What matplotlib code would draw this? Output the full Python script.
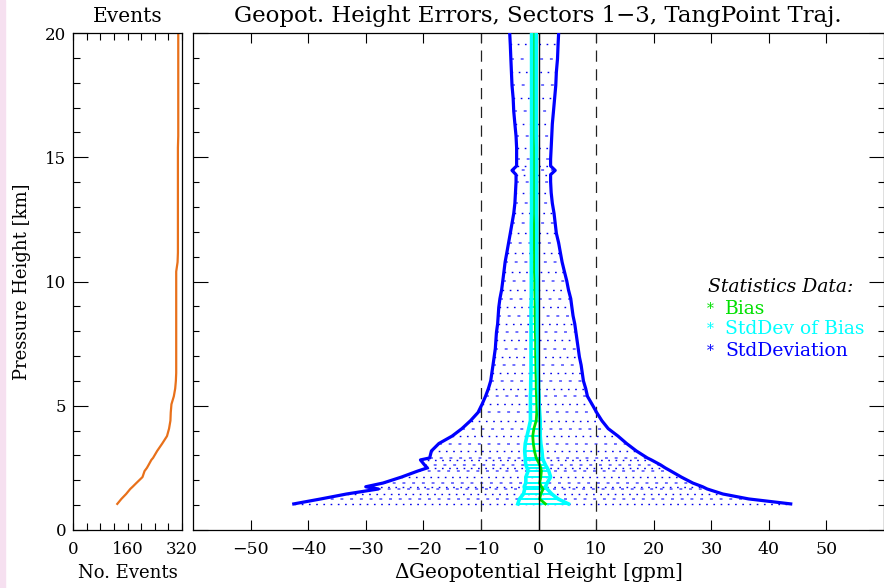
import matplotlib
matplotlib.use("Agg")
import matplotlib.pyplot as plt
from matplotlib.patches import Rectangle
from matplotlib.ticker import MultipleLocator

plt.rcParams['font.family'] = ['DejaVu Serif']
plt.rcParams['mathtext.fontset'] = 'dejavuserif'

# profile levels [km] and statistics [gpm]
levels = [1.05, 1.25, 1.45, 1.65, 1.74, 1.89, 2.13, 2.37, 2.50, 2.62,
          2.82, 2.90, 3.18, 3.48, 3.78, 4.08, 4.40, 4.73, 5.06, 5.38,
          5.69, 6.00, 6.32, 6.64, 6.97, 7.30, 7.63, 7.96, 8.29, 8.62,
          8.96, 9.31, 9.67, 10.03, 10.40, 10.78, 11.16, 11.55, 11.94, 12.34,
          12.74, 13.15, 13.58, 14.02, 14.30, 14.47, 14.65, 14.92, 15.38, 15.85,
          16.34, 16.85, 17.37, 17.89, 18.42, 18.96, 19.54, 20.00]

sd_lower = [-42.5, -37.8, -33.3, -27.8, -30.0, -27.0, -23.8, -21.0, -19.3, -19.8,
            -20.5, -18.9, -18.6, -17.3, -15.0, -13.3, -11.8, -10.5, -9.8, -9.2,
            -8.7, -8.3, -8.1, -7.9, -7.7, -7.5, -7.4, -7.3, -7.1, -7.0,
            -6.9, -6.7, -6.4, -6.2, -6.0, -5.8, -5.5, -5.2, -4.9, -4.6,
            -4.3, -4.1, -4.0, -3.9, -3.9, -4.6, -3.8, -3.8, -3.8, -3.9,
            -4.1, -4.3, -4.4, -4.6, -4.7, -4.8, -4.9, -5.0]

sd_upper = [43.8, 36.5, 32.0, 29.3, 28.5, 26.8, 24.8, 23.0, 22.0, 21.2,
            19.6, 18.9, 17.0, 15.3, 13.8, 12.1, 11.0, 10.1, 9.3, 8.5,
            8.2, 7.8, 7.6, 7.4, 7.1, 6.9, 6.7, 6.5, 6.3, 6.0,
            5.8, 5.6, 5.2, 4.9, 4.5, 4.1, 3.8, 3.5, 3.1, 2.9,
            2.7, 2.4, 2.2, 2.1, 2.1, 2.9, 2.1, 2.1, 2.2, 2.3,
            2.4, 2.6, 2.8, 3.0, 3.1, 3.3, 3.4, 3.5]

bias = [1.2, 0.2, 0.4, 0.8, 0.5, 0.2, 0.4, 0.5, 0.4, 0.2,
        -0.2, -0.4, -0.7, -0.9, -1.0, -0.8, -0.4, -0.3, -0.3, -0.35,
        -0.4, -0.4, -0.45, -0.45, -0.5, -0.5, -0.5, -0.55, -0.55, -0.6,
        -0.6, -0.6, -0.65, -0.65, -0.7, -0.7, -0.7, -0.75, -0.75, -0.75,
        -0.8, -0.8, -0.8, -0.8, -0.8, -0.8, -0.8, -0.8, -0.8, -0.8,
        -0.8, -0.8, -0.8, -0.8, -0.8, -0.8, -0.8, -0.8]

sdb_lower = [-3.6, -3.3, -2.6, -2.4, -2.5, -2.2, -2.2, -1.8, -2.0, -2.2,
             -2.3, -2.3, -2.4, -2.3, -2.0, -1.7, -1.4, -1.4, -1.4, -1.4,
             -1.35, -1.35, -1.3, -1.3, -1.3, -1.3, -1.3, -1.3, -1.3, -1.3,
             -1.3, -1.25, -1.25, -1.25, -1.25, -1.25, -1.25, -1.25, -1.25, -1.25,
             -1.2, -1.2, -1.2, -1.2, -1.2, -1.2, -1.2, -1.2, -1.2, -1.2,
             -1.2, -1.2, -1.2, -1.2, -1.2, -1.2, -1.2, -1.2]

sdb_upper = [5.2, 3.4, 2.3, 1.5, 1.2, 1.5, 2.1, 1.8, 1.5, 1.2,
             0.8, 0.7, 0.6, 0.4, 0.3, 0.3, 0.3, 0.2, 0.1, 0.1,
             0.0, 0.0, -0.05, -0.1, -0.1, -0.15, -0.15, -0.2, -0.2, -0.2,
             -0.2, -0.25, -0.25, -0.25, -0.3, -0.3, -0.3, -0.3, -0.3, -0.3,
             -0.35, -0.35, -0.35, -0.35, -0.35, -0.35, -0.35, -0.35, -0.35, -0.4,
             -0.4, -0.4, -0.4, -0.4, -0.4, -0.4, -0.4, -0.4]

n_events = [130, 142, 156, 168, 175, 186, 204, 210, 217, 222,
            230, 235, 247, 262, 276, 282, 286, 287, 289, 296,
            300, 302, 303, 303, 303, 303, 303, 303, 303, 303,
            303, 303, 303, 303, 303, 307, 308, 308, 308, 308,
            308, 308, 308, 308, 308, 308, 308, 308, 308, 309,
            309, 309, 309, 309, 309, 309, 309, 309]

main_xticks = [-50, -40, -30, -20, -10, 0, 10, 20, 30, 40, 50]
event_xticks = [0, 160, 320]
height_ticks = [0, 5, 10, 15, 20]

W, H = 884, 588
fig = plt.figure(figsize=(W / 100, H / 100), dpi=100)

# thin pink strip at the left border of the screenshot
fig.patches.append(Rectangle((0, 0), 5 / W, 1, transform=fig.transFigure,
                             color='#f6e0f0', zorder=0))

ax_ev = fig.add_axes([73 / W, 58 / H, 109 / W, 497 / H])
ax = fig.add_axes([193 / W, 58 / H, 691 / W, 497 / H])

for a in (ax_ev, ax):
    for s in a.spines.values():
        s.set_linewidth(0.9)
    a.set_ylim(0, 20)
    a.set_yticks(height_ticks)
    a.yaxis.set_minor_locator(MultipleLocator(1))

# ---- events panel
ax_ev.plot(n_events, levels, color='#e8701a', lw=1.6)
ax_ev.set_xlim(0, 320)
ax_ev.set_xticks(event_xticks)
ax_ev.xaxis.set_minor_locator(MultipleLocator(40))
ax_ev.tick_params(axis='x', which='both', direction='in', top=True,
                  length=5, width=0.8, labelsize=12, pad=8)
ax_ev.tick_params(axis='y', which='major', direction='in', length=11,
                  width=0.8, labelsize=12, pad=5)
ax_ev.tick_params(axis='y', which='minor', direction='in', length=5, width=0.8)
ax_ev.set_xlabel('No. Events', fontsize=13, labelpad=4)
ax_ev.set_ylabel('Pressure Height [km]', fontsize=13, labelpad=10)

# ---- main panel
ax.set_xlim(-60, 60)
ax.set_xticks(main_xticks)
ax.tick_params(axis='x', which='major', direction='in', top=True,
               length=7, width=0.8, labelsize=12.5, pad=8)
ax.tick_params(axis='y', which='major', direction='in', right=True,
               length=11, width=0.8, labelleft=False)
ax.tick_params(axis='y', which='minor', direction='in', right=True,
               length=4.5, width=0.8)

# dotted blue level lines between the std-deviation bounds
even = slice(0, None, 2)
odd = slice(1, None, 2)
lv = levels[:-1]
lo = sd_lower[:-1]
hi = sd_upper[:-1]
ax.hlines(lv[even], lo[even], hi[even], colors='#0000ee',
          linestyles=[(0, (1.2, 4))], lw=1.0, zorder=1)
ax.hlines(lv[odd], lo[odd], hi[odd], colors='#7070ff',
          linestyles=[(0, (1.5, 3.5))], lw=1.4, zorder=1)

ax.axvline(-10, color='#222222', lw=0.9, ls=(0, (9, 6)), zorder=2)
ax.axvline(10, color='#222222', lw=0.9, ls=(0, (9, 6)), zorder=2)

ax.hlines(levels, sdb_lower, sdb_upper, colors='cyan', lw=1.4, zorder=3)
ax.plot(bias, levels, color='#00e000', lw=2.0, zorder=4)
ax.plot(sdb_lower, levels, color='cyan', lw=2.6, zorder=4.5)
ax.plot(sdb_upper, levels, color='cyan', lw=2.6, zorder=4.5)
ax.plot(sd_lower, levels, color='#0000ff', lw=2.3, zorder=5)
ax.plot(sd_upper, levels, color='#0000ff', lw=2.3, zorder=5)
ax.axvline(0, color='black', lw=1.0, zorder=6)

ax.set_xlabel(r'$\Delta$Geopotential Height [gpm]', fontsize=14.5, labelpad=2)

# titles
fig.text(538 / W, 1 - 16 / H, 'Geopot. Height Errors, Sectors 1\u22123, TangPoint Traj.',
         ha='center', va='center', fontsize=16.5)
fig.text(128 / W, 1 - 16 / H, 'Events', ha='center', va='center', fontsize=14.5)

# statistics key
fig.text(708 / W, 1 - 287 / H, 'Statistics Data:', style='italic',
         ha='left', va='center', fontsize=13.5)
key = [('Bias', '#00e000', 309), ('StdDev of Bias', '#00ffff', 329),
       ('StdDeviation', '#0000ff', 351)]
for label, col, ypx in key:
    fig.text(707 / W, 1 - ypx / H, '*', color=col, ha='left', va='center', fontsize=10)
    fig.text(725 / W, 1 - ypx / H, label, color=col, ha='left', va='center', fontsize=13.5)

fig.savefig('out.png', dpi=100)
